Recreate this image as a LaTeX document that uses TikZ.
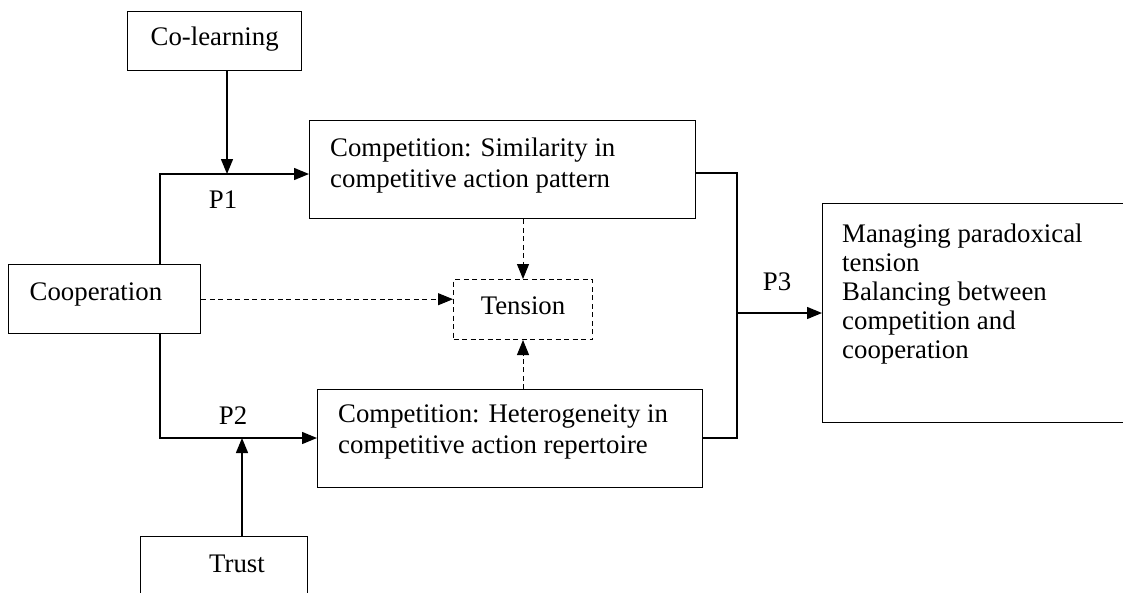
\documentclass[tikz,border=0pt]{standalone}
\usepackage{fontspec}
\setmainfont{Liberation Serif}
\usetikzlibrary{arrows.meta}
\begin{document}
\begin{tikzpicture}[x=1pt,y=-1pt,
  box/.style={draw, line width=1.4pt, inner sep=0pt, anchor=north west},
  dbox/.style={draw, line width=1pt, dash pattern=on 5pt off 3.5pt, inner sep=0pt, anchor=north west},
  txt/.style={font=\fontsize{26.8}{31}\selectfont, inner sep=0pt},
  conn/.style={line width=1.4pt},
  arr/.style={line width=1.4pt, -{Triangle[length=15pt,width=12pt]}},
  darr/.style={line width=1pt, dash pattern=on 5pt off 3.5pt, -{Triangle[length=15pt,width=12pt]}},
  lbl/.style={font=\fontsize{26.8}{31}\selectfont, inner sep=0pt}
]
\useasboundingbox (0,0) rectangle (1123,592);
\clip (0,0) rectangle (1123,592);

% boxes
\node[box, txt, minimum width=174pt, minimum height=59pt, text height=18.3pt, text depth=9.3pt] (colearn) at (127,11) {Co-learning};
\node[box, txt, minimum width=191pt, minimum height=69pt, text width=150pt, align=left, inner xsep=21pt, text height=18.3pt, text depth=15.3pt] (coop) at (8,264) {Cooperation};
\node[box, minimum width=386pt, minimum height=98pt] (sim) at (309,120) {};
\node[txt, anchor=north west, align=left] (simT) at (330,137.2) {Competition: Similarity in\\competitive action pattern};
\node[dbox, txt, minimum width=139pt, minimum height=60pt, text height=18.3pt, text depth=8.3pt] (tension) at (453,279) {Tension};
\node[box, minimum width=385pt, minimum height=98pt] (het) at (317,389) {};
\node[txt, anchor=north west, align=left] (hetT) at (338,404.7) {Competition: Heterogeneity in\\competitive action repertoire};
\node[box, minimum width=167pt, minimum height=80pt] (trust) at (140,536) {};
\node[txt, anchor=base] (trustT) at (237,572) {Trust};
\node[box, minimum width=330pt, minimum height=219pt] (rb) at (822,203) {};
\node[anchor=north west, align=left, inner sep=0pt, font=\fontsize{26.8}{29}\selectfont] (rbT) at (842,223.4) {Managing paradoxical\\tension\\Balancing between\\competition and\\cooperation};

% junction coordinates
\coordinate (p1) at (227,174);
\coordinate (c1) at (160,174);
\coordinate (c2) at (160,438);
\coordinate (t1) at (242,438);
\coordinate (r1) at (737,173);
\coordinate (r2) at (737,438);
\coordinate (r3) at (737,313);

% connectors
\draw[arr] (colearn.south -| p1) -- (p1);
\draw[arr] (coop.north -| c1) -- (c1) -- (sim.west |- c1);
\draw[arr] (coop.south -| c2) -- (c2) -- (het.west |- c2);
\draw[arr] (trust.north -| t1) -- (t1);
\draw[conn] (sim.east |- r1) -- (r1) -- (r2) -- (het.east |- r2);
\draw[arr] (r3) -- (rb.west |- r3);
\draw[darr] (coop.east) -- (tension.west |- coop.east);
\draw[darr] (sim.south -| tension.north) -- (tension.north);
\draw[darr] (het.north -| tension.south) -- (tension.south);

% labels
\node[lbl] (P1) at (223,200) {P1};
\node[lbl] (P2) at (233,416) {P2};
\node[lbl] (P3) at (777,282) {P3};
\end{tikzpicture}
\end{document}
